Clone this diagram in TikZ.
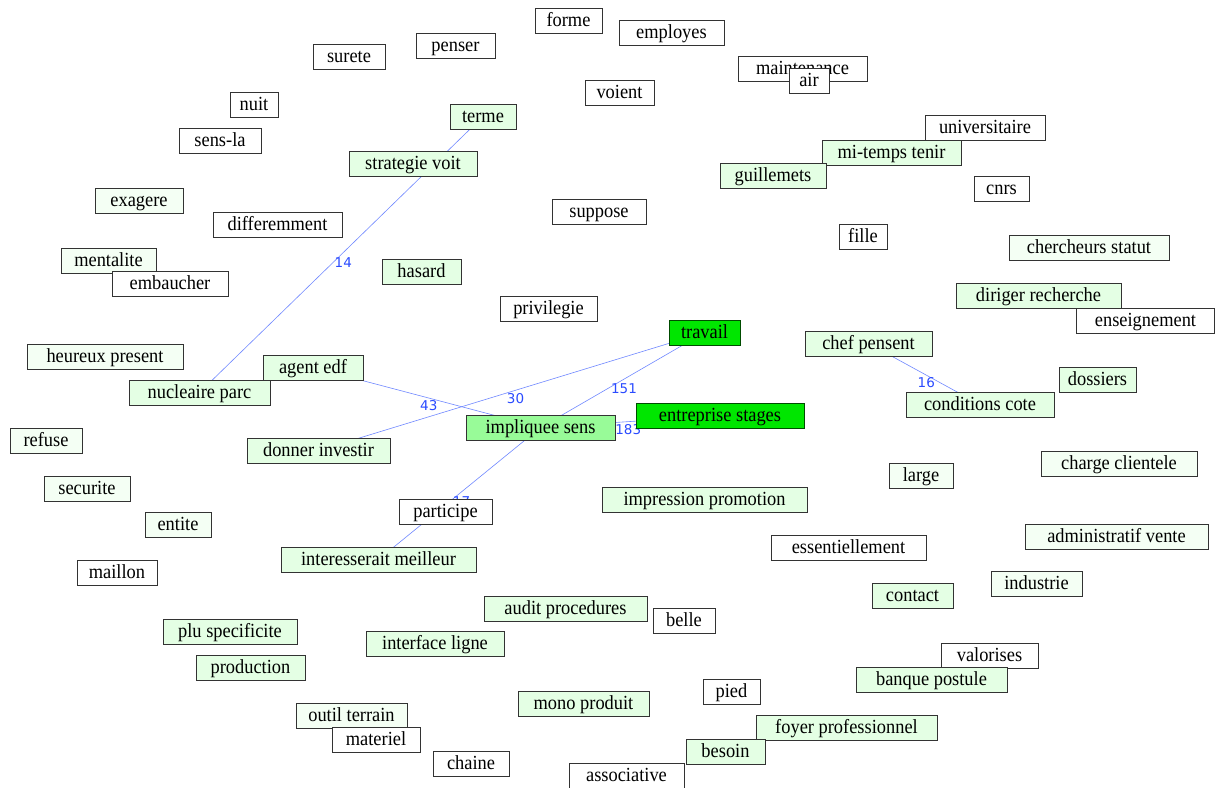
\documentclass[tikz,border=0pt]{standalone}
\usepackage{fontspec}
\setmainfont{Liberation Serif}[FakeStretch=0.92]
\newfontfamily\lblfont{DejaVu Sans}
\pgfdeclarelayer{background}
\pgfsetlayers{background,main}
\definecolor{lg}{HTML}{E4FFE4}
\definecolor{pale}{HTML}{F4FFF4}
\definecolor{midg}{HTML}{98FB98}
\definecolor{brg}{HTML}{00E600}
\definecolor{edgec}{HTML}{7088FF}
\definecolor{lblc}{HTML}{2A4BFF}
\definecolor{bord}{HTML}{333333}
\begin{document}
\begin{tikzpicture}[x=1pt,y=-1pt,
  box/.style={draw=bord,line width=0.9pt,fill=white,inner sep=0pt,minimum height=25pt,
    text height=16pt,text depth=4pt,
    font=\fontsize{20}{22}\selectfont},
  wh/.style={fill=white},
  pl/.style={fill=pale},
  gr/.style={fill=lg},
  mg/.style={fill=midg},
  bg/.style={fill=brg,draw=black!70!green},
  edge/.style={draw=edgec,line width=0.6pt},
  elab/.style={text=lblc,font=\lblfont\fontsize{13.5}{14}\selectfont,inner sep=0pt}]
\useasboundingbox (0,0) rectangle (1215,787);

\node[box,wh,minimum width=67pt] (forme) at (568.5,20.5) {forme};
\node[box,wh,minimum width=105pt] (employes) at (671.5,32.5) {employes};
\node[box,wh,minimum width=72pt] (surete) at (349,56.5) {surete};
\node[box,wh,minimum width=79pt] (penser) at (455.5,45.5) {penser};
\node[box,wh,minimum width=129pt] (maintenance) at (802.5,68.5) {maintenance};
\node[box,wh,minimum width=40pt] (air) at (809,80.5) {air};
\node[box,wh,minimum width=69pt] (voient) at (619.5,92.5) {voient};
\node[box,wh,minimum width=48pt] (nuit) at (254,104.5) {nuit};
\node[box,gr,minimum width=66pt] (terme) at (483,116.5) {terme};
\node[box,wh,minimum width=82pt] (sensla) at (220,140.5) {sens-la};
\node[box,wh,minimum width=120pt] (universitaire) at (985,127.5) {universitaire};
\node[box,gr,minimum width=139pt] (mitemps) at (891.5,152.5) {mi-temps tenir};
\node[box,gr,minimum width=128pt] (strategie) at (413,163.5) {strategie voit};
\node[box,gr,minimum width=106pt] (guillemets) at (773,175.5) {guillemets};
\node[box,wh,minimum width=55pt] (cnrs) at (1001.5,188.5) {cnrs};
\node[box,pl,minimum width=88pt] (exagere) at (139,200.5) {exagere};
\node[box,wh,minimum width=94pt] (suppose) at (599,211.5) {suppose};
\node[box,wh,minimum width=129pt] (differemment) at (277.5,224.5) {differemment};
\node[box,wh,minimum width=48pt] (fille) at (863,236.5) {fille};
\node[box,pl,minimum width=160pt] (chercheurs) at (1089,247.5) {chercheurs statut};
\node[box,pl,minimum width=95pt] (mentalite) at (108.5,260.5) {mentalite};
\node[box,wh,minimum width=116pt] (embaucher) at (170,283.5) {embaucher};
\node[box,gr,minimum width=79pt] (hasard) at (421.5,271.5) {hasard};
\node[box,gr,minimum width=165pt] (diriger) at (1038.5,295.5) {diriger recherche};
\node[box,wh,minimum width=97pt] (privilegie) at (548.5,308.5) {privilegie};
\node[box,wh,minimum width=138pt] (enseignement) at (1145.5,320.5) {enseignement};
\node[box,bg,minimum width=71pt] (travail) at (704.5,332.5) {travail};
\node[box,gr,minimum width=127pt] (chef) at (868.5,343.5) {chef pensent};
\node[box,pl,minimum width=156pt] (heureux) at (105,356.5) {heureux present};
\node[box,gr,minimum width=100pt] (agent) at (313,367.5) {agent edf};
\node[box,gr,minimum width=77pt] (dossiers) at (1097.5,379.5) {dossiers};
\node[box,gr,minimum width=141pt] (nucleaire) at (199.5,392.5) {nucleaire parc};
\node[box,bg,minimum width=168pt] (entreprise) at (720,415.5) {entreprise stages};
\node[box,gr,minimum width=148pt] (conditions) at (980,404.5) {conditions cote};
\node[box,mg,minimum width=149pt] (implique) at (540.5,427.5) {impliquee sens};
\node[box,pl,minimum width=72pt] (refuse) at (46,440.5) {refuse};
\node[box,gr,minimum width=143pt] (donner) at (318.5,450.5) {donner investir};
\node[box,pl,minimum width=156pt] (charge) at (1119,463.5) {charge clientele};
\node[box,pl,minimum width=64pt] (large) at (921,475.5) {large};
\node[box,pl,minimum width=86pt] (securite) at (87,488.5) {securite};
\node[box,gr,minimum width=205pt] (impression) at (704.5,499.5) {impression promotion};
\node[box,wh,minimum width=93pt] (participe) at (445.5,511.5) {participe};
\node[box,pl,minimum width=66pt] (entite) at (178,524.5) {entite};
\node[box,pl,minimum width=183pt] (administratif) at (1116.5,536.5) {administratif vente};
\node[box,wh,minimum width=155pt] (essentiellement) at (848.5,547.5) {essentiellement};
\node[box,gr,minimum width=195pt] (interesserait) at (378.5,559.5) {interesserait meilleur};
\node[box,wh,minimum width=80pt] (maillon) at (117,572.5) {maillon};
\node[box,pl,minimum width=91pt] (industrie) at (1036.5,583.5) {industrie};
\node[box,gr,minimum width=81pt] (contact) at (912.5,595.5) {contact};
\node[box,gr,minimum width=163pt] (audit) at (565.5,608.5) {audit procedures};
\node[box,wh,minimum width=62pt] (belle) at (684,620.5) {belle};
\node[box,gr,minimum width=134pt] (plu) at (230,631.5) {plu specificite};
\node[box,gr,minimum width=138pt] (interface) at (435,643.5) {interface ligne};
\node[box,wh,minimum width=97pt] (valorises) at (989.5,655.5) {valorises};
\node[box,gr,minimum width=151pt] (banque) at (931.5,679.5) {banque postule};
\node[box,gr,minimum width=109pt] (production) at (250.5,667.5) {production};
\node[box,wh,minimum width=57pt] (pied) at (731.5,691.5) {pied};
\node[box,gr,minimum width=131pt] (mono) at (583.5,703.5) {mono produit};
\node[box,pl,minimum width=111pt] (outil) at (351.5,715.5) {outil terrain};
\node[box,gr,minimum width=181pt] (foyer) at (846.5,727.5) {foyer professionnel};
\node[box,wh,minimum width=88pt] (materiel) at (376,739.5) {materiel};
\node[box,wh,minimum width=76pt] (chaine) at (471,763.5) {chaine};
\node[box,wh,minimum width=115pt] (associative) at (626.5,775.5) {associative};
\node[box,gr,minimum width=79pt] (besoin) at (725.5,751.5) {besoin};

\begin{pgfonlayer}{background}
\fill[white] (0,0) rectangle (1215,787);
\draw[edge] (terme.center) -- node[elab,pos=.5,xshift=2pt,yshift=-8.5pt] {14} (nucleaire.center);
\draw[edge] (agent.center) -- node[elab,pos=.5,xshift=2pt,yshift=-8.5pt] {43} (implique.center);
\draw[edge] (travail.center) -- node[elab,pos=.5,xshift=4pt,yshift=-7pt] {30} (donner.center);
\draw[edge] (travail.center) -- node[elab,pos=.5,xshift=1.5pt,yshift=-8.5pt] {151} (implique.center);
\draw[edge] (implique.center) -- node[elab,pos=.5,xshift=-2pt,yshift=-8.5pt] {183} (entreprise.center);
\draw[edge] (implique.center) -- node[elab,pos=.5,xshift=2pt,yshift=-8.5pt] {17} (interesserait.center);
\draw[edge] (chef.center) -- node[elab,pos=.5,xshift=2pt,yshift=-8.5pt] {16} (conditions.center);
\end{pgfonlayer}
\end{tikzpicture}
\end{document}
